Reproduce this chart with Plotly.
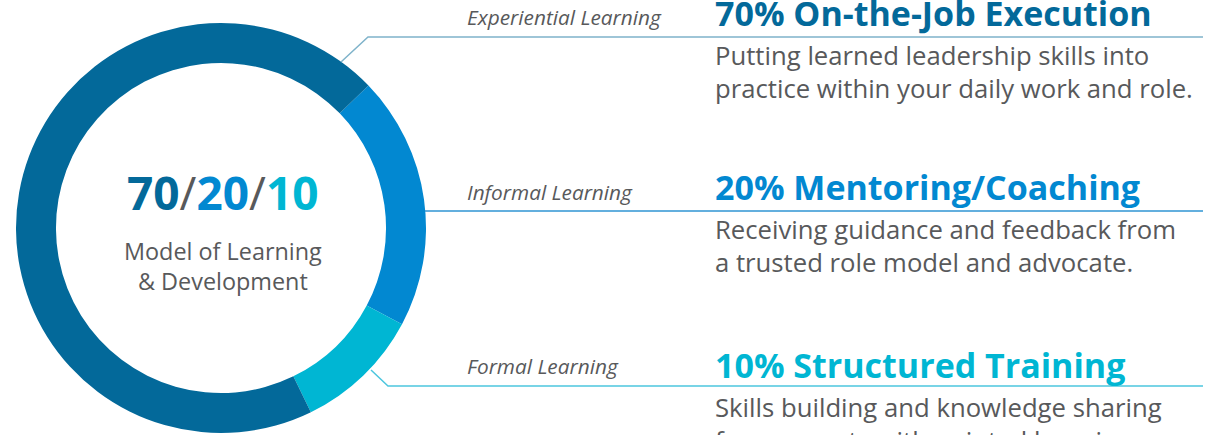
import plotly.graph_objects as go

W, H = 1229, 435

# data
segments = ["Mentoring/Coaching", "Structured Training", "On-the-Job Execution"]
shares = [20, 10, 70]
seg_colors = ["#0288D1", "#00B6D3", "#03699A"]

kinds = ["Experiential Learning", "Informal Learning", "Formal Learning"]
headings = ["70% On-the-Job Execution", "20% Mentoring/Coaching", "10% Structured Training"]
head_colors = ["#03699A", "#0288D1", "#00B6D3"]
line_colors = ["#7FB3CA", "#2F95D3", "#4CC6DE"]
descriptions = [
    ["Putting learned leadership skills into", "practice within your daily work and role."],
    ["Receiving guidance and feedback from", "a trusted role model and advocate."],
    ["Skills building and knowledge sharing", "from experts with pointed learning."],
]

GRAY = "#58595B"
FONT = "Open Sans"


def px(x):
    return x / W


def py(y):
    return 1 - y / H


fig = go.Figure()
fig.add_trace(go.Pie(
    labels=segments,
    values=shares,
    marker=dict(colors=seg_colors, line=dict(width=0)),
    hole=0.805,
    sort=False,
    direction="clockwise",
    rotation=46,
    textinfo="none",
    hoverinfo="label+percent",
    domain=dict(x=[px(16), px(426)], y=[py(433), py(23)]),
    showlegend=False,
))

ann = []
# centre text
title = ("<b><span style='color:#03699A'>70</span></b>"
         "<span style='color:#58595B'>/</span>"
         "<b><span style='color:#0288D1'>20</span></b>"
         "<span style='color:#58595B'>/</span>"
         "<b><span style='color:#00B6D3'>10</span></b>")
ann.append(dict(x=px(223), y=py(192), text=title, font=dict(family=FONT, size=46),
                xanchor="center", yanchor="middle"))
ann.append(dict(x=px(223), y=py(265.5), text="Model of Learning<br>&amp; Development",
                font=dict(family=FONT, size=23.4, color=GRAY), xanchor="center", yanchor="middle"))

kind_y = [17, 192, 366]
head_y = [13, 187, 365]
desc_y = [71.5, 246, 423.5]
for i in range(3):
    ann.append(dict(x=px(465), y=py(kind_y[i]), text="<i>" + kinds[i] + "</i>",
                    font=dict(family=FONT, size=20.8, color=GRAY), xanchor="left", yanchor="middle"))
    ann.append(dict(x=px(713), y=py(head_y[i]), text="<b>" + headings[i] + "</b>",
                    font=dict(family=FONT, size=34, color=head_colors[i]), xanchor="left", yanchor="middle"))
    ann.append(dict(x=px(713), y=py(desc_y[i]), text="<br>".join(descriptions[i]), align="left",
                    font=dict(family=FONT, size=25.7, color=GRAY), xanchor="left", yanchor="middle"))

for a in ann:
    a.update(xref="paper", yref="paper", showarrow=False)

# connector lines
connectors = [
    [(341, 62), (368, 37), (1203, 37)],
    [(425, 211), (1203, 211)],
    [(371, 370), (388, 386), (1203, 386)],
]
shapes = []
for pts, col in zip(connectors, line_colors):
    path = "M " + " L ".join(f"{px(x):.5f},{py(y):.5f}" for x, y in pts)
    shapes.append(dict(type="path", path=path, xref="paper", yref="paper",
                       line=dict(color=col, width=1.5)))

fig.update_layout(
    width=W, height=H,
    margin=dict(l=0, r=0, t=0, b=0),
    paper_bgcolor="white",
    plot_bgcolor="white",
    annotations=ann,
    shapes=shapes,
)

# drop the default page margin so the figure sits at the window's corner
fig.write_html("out.html", config={"displayModeBar": False},
               post_script="document.body.style.margin='0';")
